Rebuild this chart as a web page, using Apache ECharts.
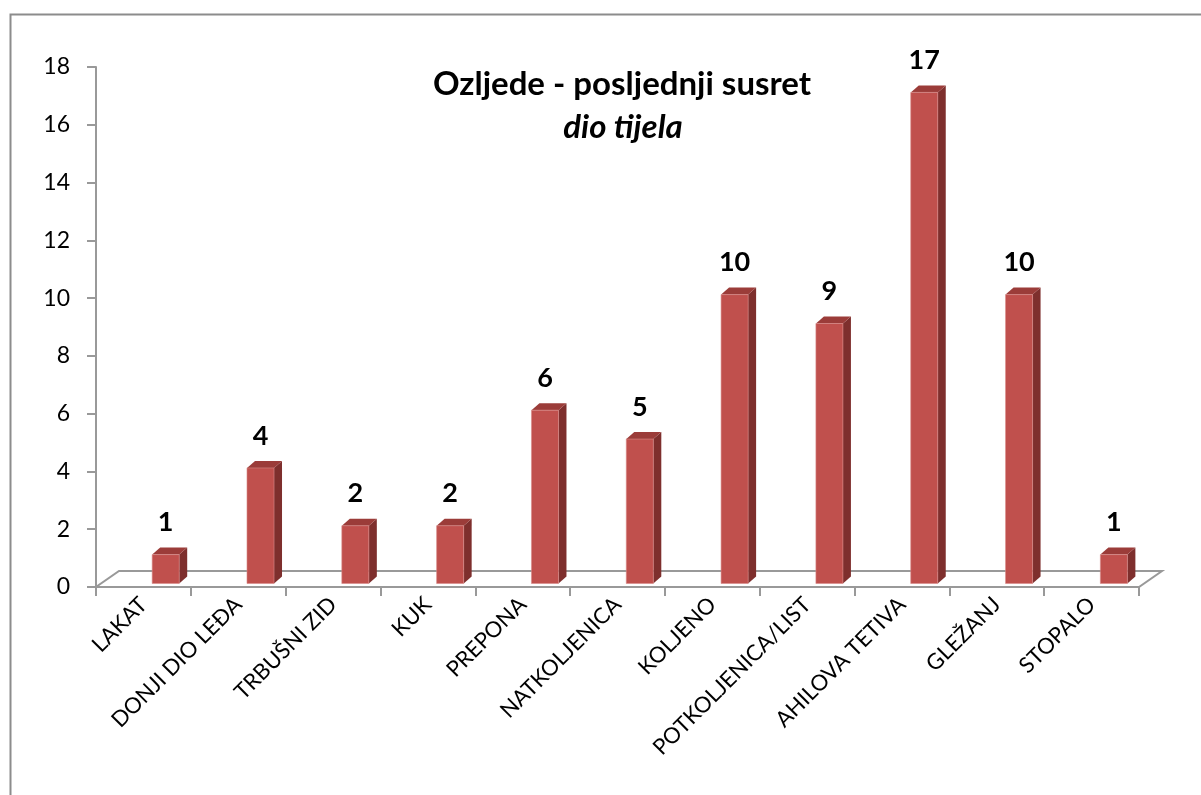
<!DOCTYPE html>
<html lang="hr">
<head>
  <meta charset="UTF-8">
  <title>Ozljede - posljednji susret</title>
  <style>
    html, body { margin: 0; padding: 0; background: #fff; }
    #main { width: 1201px; height: 795px; }
  </style>
</head>
<body>
  <div id="main"></div>
  <script src="https://cdn.jsdelivr.net/npm/echarts@6/dist/echarts.min.js"></script>
  <script>
    // podaci
    var categories = ['LAKAT', 'DONJI DIO LEĐA', 'TRBUŠNI ZID', 'KUK', 'PREPONA', 'NATKOLJENICA',
      'KOLJENO', 'POTKOLJENICA/LIST', 'AHILOVA TETIVA', 'GLEŽANJ', 'STOPALO'];
    var values = [1, 4, 2, 2, 6, 5, 10, 9, 17, 10, 1];
    var yTicks = [0, 2, 4, 6, 8, 10, 12, 14, 16, 18];

    var font = 'Lato, "Open Sans", sans-serif';
    var front = '#C0504D', side = '#7E2F2D', topc = '#9B3C39';

    var myChart = echarts.init(document.getElementById('main'));

    // pod (3D floor)
    function renderFloor(params, api) {
      var cs = params.coordSys;
      var x0 = cs.x, x1 = cs.x + cs.width, y0 = cs.y + cs.height;
      var dx = 23, dy = -16;
      return {
        type: 'polygon',
        shape: { points: [[x0, y0], [x1, y0], [x1 + dx, y0 + dy], [x0 + dx, y0 + dy]] },
        style: { fill: '#fff', stroke: '#999', lineWidth: 2 },
        z2: 0
      };
    }

    // stupci
    function renderBar(params, api) {
      var p = api.coord([api.value(0), api.value(1)]);
      var b = api.coord([api.value(0), 0]);
      var cw = api.size([1, 0])[0];
      var w = cw * 0.285;
      var cx = p[0] + cw * 0.235;
      var lift = -3.5;
      var l = cx - w / 2, r = cx + w / 2;
      var t = p[1] + lift, bt = b[1] + lift;
      var dx = 8, dy = -7;
      return {
        type: 'group',
        children: [
          { type: 'polygon', shape: { points: [[r, t], [r + dx, t + dy], [r + dx, bt + dy], [r, bt]] },
            style: { fill: side } },
          { type: 'polygon', shape: { points: [[l, t], [l + dx, t + dy], [r + dx, t + dy], [r, t]] },
            style: { fill: topc } },
          { type: 'rect', shape: { x: l, y: t, width: w, height: bt - t },
            style: { fill: front, stroke: '#D98A88', lineWidth: 0.6 } },
          { type: 'text', x: cx, y: t - 32,
            style: { text: String(api.value(1)), font: 'bold 27px ' + font, fill: '#000',
              align: 'center', verticalAlign: 'middle' } }
        ]
      };
    }

    var option = {
      backgroundColor: '#fff',
      animation: false,
      graphic: [
        { type: 'rect', left: 8, top: 12,
          shape: { width: 1220, height: 820 },
          style: { fill: 'none', stroke: '#8c8c8c', lineWidth: 2 } },
        { type: 'text', x: 622, y: 84,
          style: { text: 'Ozljede - posljednji susret', font: 'bold 33px ' + font, fill: '#000',
            align: 'center', verticalAlign: 'middle' } },
        { type: 'text', x: 623, y: 127,
          style: { text: 'dio tijela', font: 'italic bold 33px ' + font, fill: '#000',
            align: 'center', verticalAlign: 'middle' } }
      ],
      grid: { left: 96, top: 67, width: 1043, height: 520, containLabel: false },
      xAxis: {
        type: 'category',
        data: categories,
        axisLine: { show: false },
        axisTick: { show: true, length: 9, lineStyle: { color: '#999', width: 2 } },
        axisLabel: { rotate: 45, fontFamily: font, fontSize: 22, color: '#000', margin: 14, interval: 0 },
        splitLine: { show: false }
      },
      yAxis: {
        type: 'value',
        min: yTicks[0], max: yTicks[yTicks.length - 1], interval: 2,
        axisLine: { show: true, lineStyle: { color: '#999', width: 2 } },
        axisTick: { show: true, length: 9, lineStyle: { color: '#999', width: 2 } },
        axisLabel: { fontFamily: font, fontSize: 23, color: '#000', margin: 26 },
        splitLine: { show: false }
      },
      series: [
        { type: 'custom', renderItem: renderFloor, data: [0], z: 1, silent: true },
        { type: 'custom', renderItem: renderBar, data: categories.map(function (c, i) { return [i, values[i]]; }),
          encode: { x: 0, y: 1 }, z: 2 }
      ]
    };
    myChart.setOption(option);
  </script>
</body>
</html>
